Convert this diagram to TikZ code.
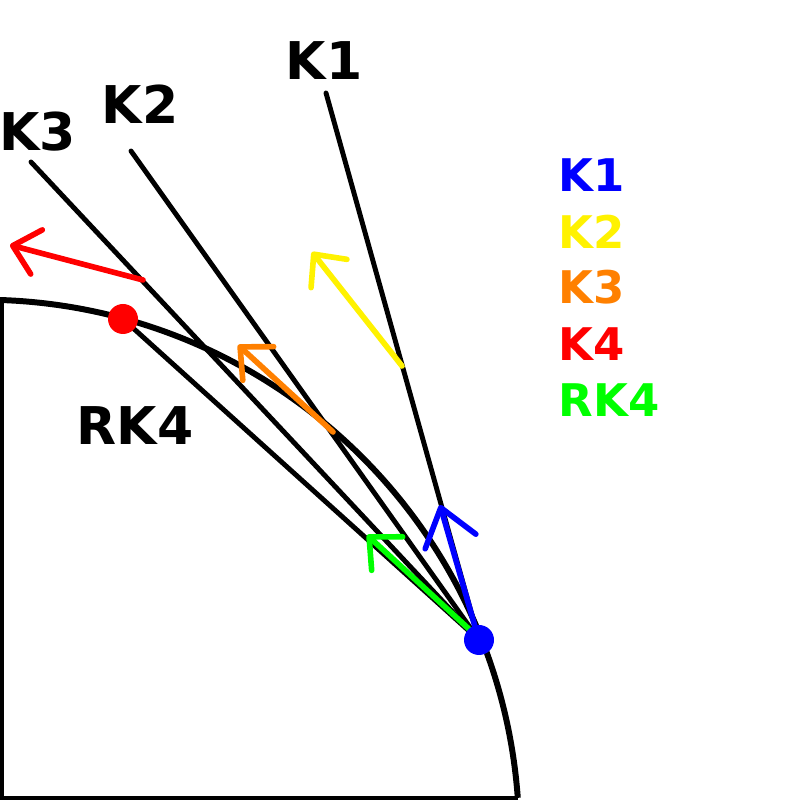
\documentclass[tikz,border=0pt]{standalone}
\usepackage{fontspec}
\setmainfont{DejaVu Sans}
\usetikzlibrary{arrows.meta}
\definecolor{korange}{RGB}{255,128,0}
\tikzset{
	rim/.style={line width=1.7pt},
	wall/.style={line width=1.2pt},
	ray/.style={line width=1.4pt, line cap=round},
	slope/.style={line width=1.6pt, line cap=round, -{Straight Barb[length=7pt, width=13pt, round]}},
	dot/.style={circle, inner sep=0pt, minimum size=0.30cm},
	lbl/.style={inner sep=0pt, font=\fontsize{14.8}{16}\selectfont\bfseries},
	key/.style={inner sep=0pt, anchor=west, font=\fontsize{12.8}{14}\selectfont\bfseries}
}
\begin{document}
\begin{tikzpicture}
		%%%%% START %%%%%
		\useasboundingbox (0, 0) rectangle (8, 8);
		
		\draw[wall] (0.02, 5.0) -- (0.02, 0.02) -- (5.18, 0.02);
		\draw[rim] (0.0, 5.0) arc (88.1:4.15:5.37);
		
		\coordinate (start) at (4.79, 1.60);
		\coordinate (rkend) at (1.23, 4.81);
		\coordinate (k1top) at (3.26, 7.07);
		\coordinate (k2top) at (1.31, 6.49);
		\coordinate (k3top) at (0.31, 6.38);
		
		\draw[ray] (k1top) -- (start);
		\draw[ray] (k2top) -- (start);
		\draw[ray] (k3top) -- (start);
		\draw[ray] (rkend) -- (start);
		
		\coordinate (b0) at (4.76, 1.70);
		\coordinate (b1) at (4.40, 2.95);
		\coordinate (g0) at (4.70, 1.70);
		\coordinate (g1) at (3.67, 2.65);
		\coordinate (o0) at (3.33, 3.68);
		\coordinate (o1) at (2.38, 4.55);
		\coordinate (y0) at (4.02, 4.34);
		\coordinate (y1) at (3.12, 5.48);
		\coordinate (r0) at (1.43, 5.20);
		\coordinate (r1) at (0.10, 5.55);
		
		\draw[slope, color=green] (g0) -- (g1);
		\draw[slope, color=blue, -{Straight Barb[length=10pt, width=15pt, round]}] (b0) -- (b1);
		\draw[slope, color=korange] (o0) -- (o1);
		\draw[slope, color=yellow] (y0) -- (y1);
		\draw[slope, color=red] (r0) -- (r1);
		
		\node[dot, fill=blue] (sdot) at (start) {};
		\node[dot, fill=red] (rdot) at (rkend) {};
		
		\node[lbl] (k1lbl) at (3.24, 7.39) {K1};
		\node[lbl] (k2lbl) at (1.40, 6.955) {K2};
		\node[lbl] (k3lbl) at (0.375, 6.68) {K3};
		\node[lbl] (rklbl) at (1.35, 3.74) {RK4};
		
		\node[key, color=blue] (key1) at (5.58, 6.245) {K1};
		\node[key, color=yellow] (key2) at (5.58, 5.685) {K2};
		\node[key, color=korange] (key3) at (5.58, 5.125) {K3};
		\node[key, color=red] (key4) at (5.58, 4.56) {K4};
		\node[key, color=green] (key5) at (5.58, 4.00) {RK4};
		
		%%%%% END %%%%%
\end{tikzpicture}
\end{document}
